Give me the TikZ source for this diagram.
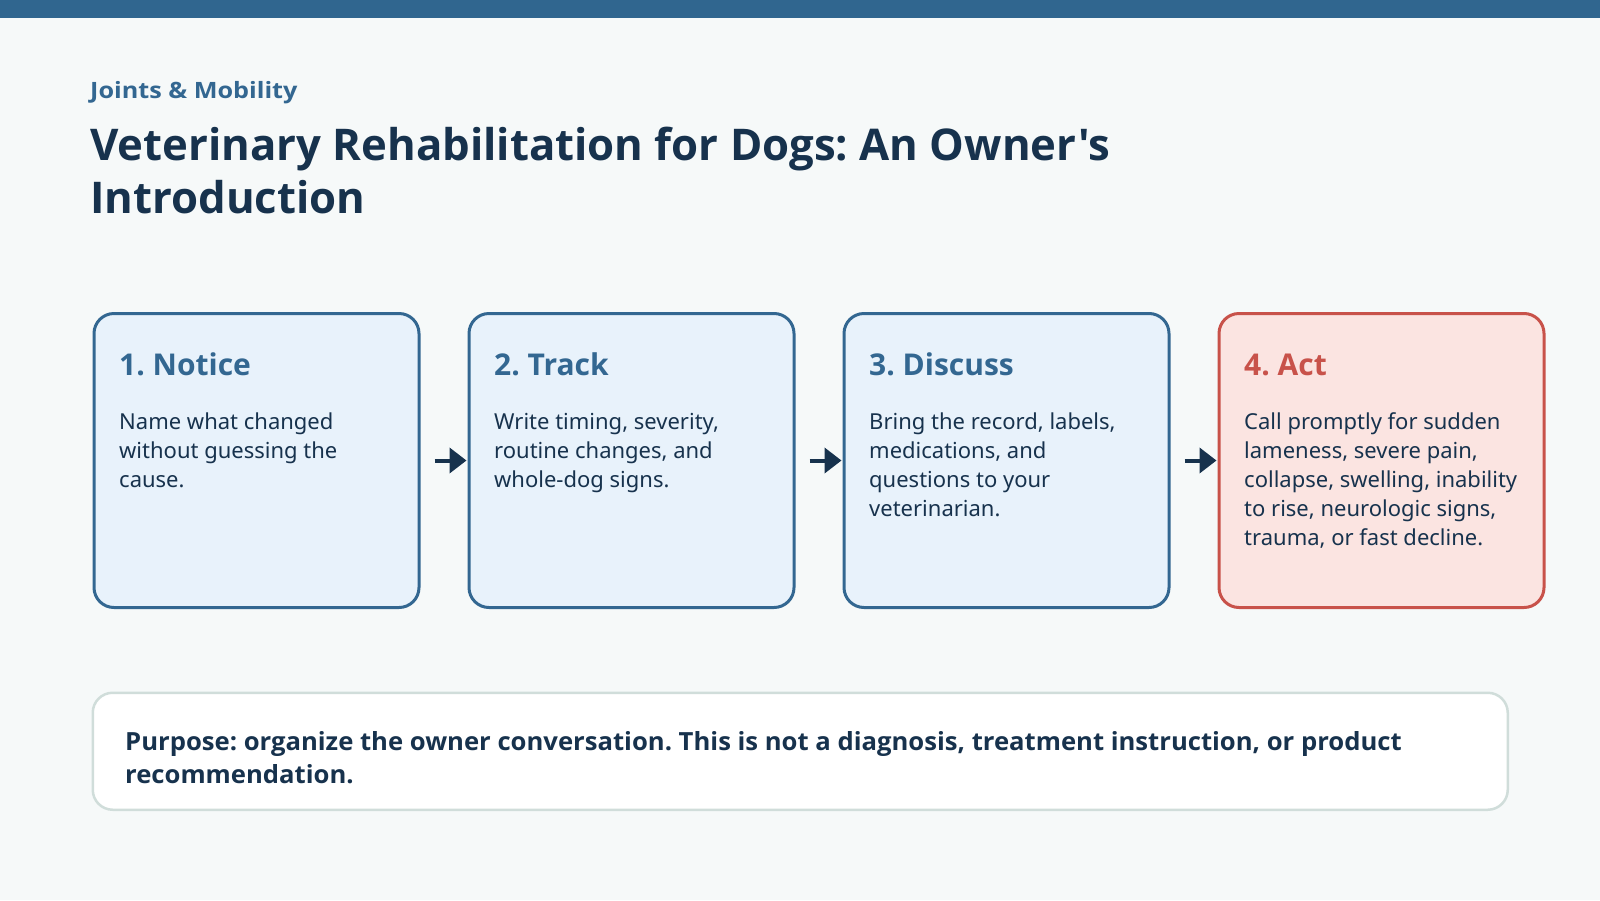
\documentclass[tikz,border=0pt]{standalone}
\usepackage{fontspec}
\setmainfont{Noto Sans}[Ligatures=TeXOff]
\newfontfamily\bfam{Open Sans}[Ligatures=TeXOff]
\newfontfamily\bfamwide{Open Sans}[Ligatures=TeXOff,FakeStretch=1.12]
\newfontfamily\bfamnote{Open Sans}[Ligatures=TeXOff,FakeStretch=1.026]
\usetikzlibrary{arrows.meta}
\definecolor{bg}{HTML}{F6F9F9}
\definecolor{bar}{HTML}{30668F}
\definecolor{navy}{HTML}{17324D}
\definecolor{steel}{HTML}{336791}
\definecolor{lblue}{HTML}{E8F2FB}
\definecolor{redb}{HTML}{C8524A}
\definecolor{lred}{HTML}{FBE4E1}
\definecolor{gborder}{HTML}{D0DDDA}
\tikzset{
  card/.style={draw=steel, fill=lblue, line width=3pt, rounded corners=20pt,
    minimum width=325pt, minimum height=294pt, anchor=north west, inner sep=0pt},
  redcard/.style={card, draw=redb, fill=lred},
  cardtitle/.style={anchor=base west, inner sep=0pt, text=steel,
    font=\bfam\bfseries\fontsize{30}{36}\selectfont},
  cardbody/.style={anchor=base west, inner sep=0pt, align=left, text=navy,
    font=\fontsize{22}{29}\selectfont},
  flow/.style={draw=navy, line width=4pt, -{Triangle[length=17pt,width=25pt]},
    shorten <=14pt, shorten >=1pt}
}
\frenchspacing
\begin{document}
\begin{tikzpicture}[x=1pt,y=-1pt]
\useasboundingbox (0,0) rectangle (1600,900);
\fill[bg] (0,0) rectangle (1600,900);
\fill[bar] (0,0) rectangle (1600,18);

\node[anchor=base west, inner sep=0pt, text=steel, font=\bfamwide\bfseries\fontsize{22.5}{28}\selectfont] (kicker) at (90,98) {Joints \& Mobility};
% multi-line nodes: base anchor sits on the last line
\node[anchor=base west, inner sep=0pt, align=left, text=navy, font=\bfam\bfseries\fontsize{43.7}{53}\selectfont] (title) at (90,213) {Veterinary Rehabilitation for Dogs: An Owner's\\Introduction};

\node[card] (c1) at (92.5,312) {};
\node[card] (c2) at (467.5,312) {};
\node[card] (c3) at (842.5,312) {};
\node[redcard] (c4) at (1217.5,312) {};

\node[cardtitle] (t1) at (119,375) {1. Notice};
\node[cardtitle] (t2) at (494,375) {2. Track};
\node[cardtitle] (t3) at (869,375) {3. Discuss};
\node[cardtitle, text=redb] (t4) at (1244,375) {4. Act};

\node[cardbody] (b1) at (119,487) {Name what changed\\without guessing the\\cause.};
\node[cardbody] (b2) at (494,487) {Write timing, severity,\\routine changes, and\\whole-dog signs.};
\node[cardbody] (b3) at (869,516) {Bring the record, labels,\\medications, and\\questions to your\\veterinarian.};
\node[cardbody] (b4) at (1244,545) {Call promptly for sudden\\lameness, severe pain,\\collapse, swelling, inability\\to rise, neurologic signs,\\trauma, or fast decline.};

\draw[flow] (c1.east) -- (c2.west);
\draw[flow] (c2.east) -- (c3.west);
\draw[flow] (c3.east) -- (c4.west);

\node[draw=gborder, fill=white, line width=2.5pt, rounded corners=20pt, anchor=north west,
  minimum width=1415pt, minimum height=117pt, inner sep=0pt] (note) at (91.5,691.5) {};
\node[anchor=base west, inner sep=0pt, align=left, text=navy, font=\bfamnote\bfseries\fontsize{25}{33}\selectfont] (notetext) at (125,783) {Purpose: organize the owner conversation. This is not a diagnosis, treatment instruction, or product\\recommendation.};
\end{tikzpicture}
\end{document}
